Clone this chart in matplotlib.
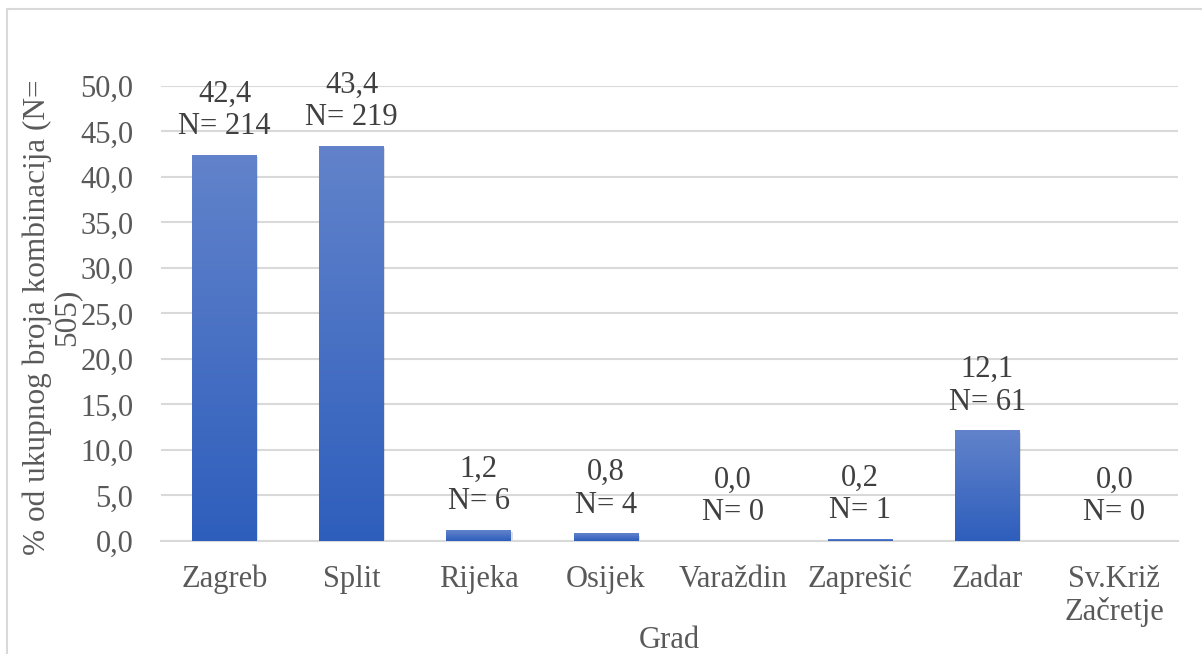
import numpy as np
import matplotlib
matplotlib.use('Agg')
import matplotlib.pyplot as plt
from matplotlib.colors import LinearSegmentedColormap
from matplotlib.patches import Rectangle

cities = ['Zagreb', 'Split', 'Rijeka', 'Osijek', 'Varaždin', 'Zaprešić', 'Zadar', 'Sv.Križ\nZačretje']
percent = [42.4, 43.4, 1.2, 0.8, 0.0, 0.2, 12.1, 0.0]
counts = [214, 219, 6, 4, 0, 1, 61, 0]
yticks = np.arange(0, 51, 5)

plt.rcParams['font.family'] = ['Liberation Serif', 'DejaVu Serif']

fig = plt.figure(figsize=(12.02, 6.54), dpi=100)
ax = fig.add_axes([0.134, 0.1728, 0.846, 0.6957])

x = np.arange(len(cities))
width = 0.51
# gradient fill: lighter at top, darker at bottom
cmap = LinearSegmentedColormap.from_list('bar', ['#2E5EBC', '#6283CB'])
grad = np.linspace(0, 1, 256).reshape(-1, 1)
for xi, h in zip(x, percent):
    if h <= 0:
        continue
    # faint shadow
    ax.add_patch(Rectangle((xi - width / 2 + 0.01, -0.25), width, h,
                           facecolor='#000000', alpha=0.12, edgecolor='none', zorder=2))
    ax.imshow(grad, extent=[xi - width / 2, xi + width / 2, 0, h], origin='lower',
              cmap=cmap, aspect='auto', zorder=3, interpolation='bilinear')

for xi, p, n in zip(x, percent, counts):
    lbl = f"{p:.1f}".replace('.', ',') + f"\nN= {n}"
    ax.annotate(lbl, (xi, p), xytext=(0, 10), textcoords='offset points',
                ha='center', va='bottom', fontsize=22, color='#404040', linespacing=1.17)

ax.set_xlim(-0.5, len(cities) - 0.5)
ax.set_ylim(0, 50)
ax.set_yticks(yticks)
ax.set_yticklabels([f"{v:.1f}".replace('.', ',') for v in yticks])
ax.set_xticks(x)
ax.set_xticklabels(cities, linespacing=1.15)
ax.tick_params(axis='both', length=0, labelsize=22, labelcolor='#595959')
ax.tick_params(axis='x', pad=17)
ax.tick_params(axis='y', pad=20)
ax.grid(axis='y', color='#D9D9D9', linewidth=1.5, zorder=0)
ax.set_axisbelow(True)
for s in ['top', 'right', 'left']:
    ax.spines[s].set_visible(False)
ax.spines['bottom'].set_color('#D9D9D9')
ax.spines['bottom'].set_linewidth(1.5)

fig.text(0.043, 0.515, '% od ukupnog broja kombinacija (N=\n505)', rotation=90,
         ha='center', va='center', multialignment='center', fontsize=22.5,
         color='#595959', linespacing=1.0)
fig.text(0.557, 0.021, 'Grad', ha='center', va='center', fontsize=22, color='#595959')

# chart frame (right and bottom edges fall outside the image)
fig.patches.append(Rectangle((7 / 1202, -0.1), 1.2, 1 - 8.5 / 654 + 0.1, transform=fig.transFigure,
                             fill=False, edgecolor='#D9D9D9', linewidth=1.5))

fig.savefig('out.png', dpi=100)
